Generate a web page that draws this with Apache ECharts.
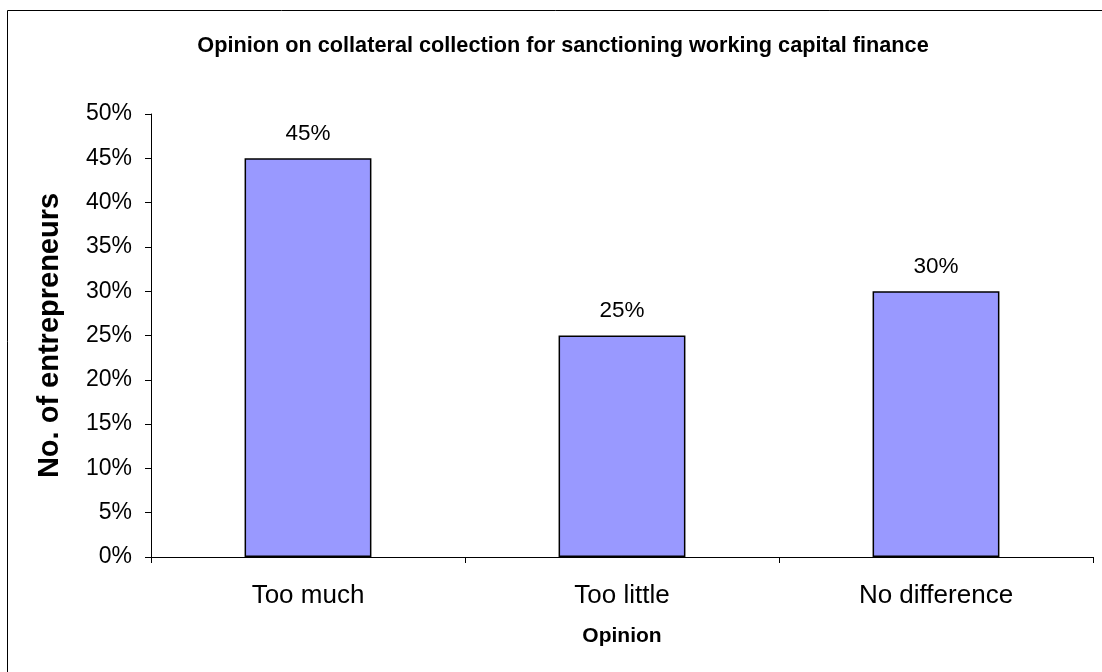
<!DOCTYPE html>
<html><head><meta charset="utf-8">
<script src="https://cdn.jsdelivr.net/npm/echarts@6/dist/echarts.min.js"></script>
<style>html,body{margin:0;padding:0;background:#fff}#c{width:1102px;height:672px}</style>
</head><body><div id="c"></div>
<script>
const categories = ['Too much', 'Too little', 'No difference'];
const values = [0.45, 0.25, 0.30];
const yTicks = [0, 0.05, 0.10, 0.15, 0.20, 0.25, 0.30, 0.35, 0.40, 0.45, 0.50];
const titleText = 'Opinion on collateral collection for sanctioning working capital finance';
const xName = 'Opinion';
const yName = 'No. of entrepreneurs';

const chart = echarts.init(document.getElementById('c'));
const pct = v => Math.round(v * 100) + '%';
chart.setOption({
  animation: false,
  backgroundColor: '#fff',
  title: {
    text: titleText, left: 558, textAlign: 'center', top: 30,
    textStyle: {fontFamily: 'Liberation Sans', fontSize: 21.7, fontWeight: 'bold', color: '#000'}
  },
  graphic: [{
    type: 'rect', silent: true,
    shape: {x: 7.5, y: 10.5, width: 1100, height: 670},
    style: {fill: 'none', stroke: '#000', lineWidth: 1}
  }],
  grid: {left: 151, right: 9, top: 114, bottom: 115, containLabel: false},
  xAxis: {
    type: 'category', data: categories,
    name: xName, nameLocation: 'middle', nameGap: 69,
    nameTextStyle: {fontFamily: 'Liberation Sans', fontSize: 21, fontWeight: 'bold', color: '#000'},
    axisLine: {lineStyle: {color: '#000', width: 1}},
    axisTick: {show: true, inside: false, length: 6, alignWithLabel: false, lineStyle: {color: '#000'}},
    axisLabel: {fontFamily: 'Liberation Sans', fontSize: 26, color: '#000', margin: 26},
    splitLine: {show: false}
  },
  yAxis: {
    type: 'value', min: 0, max: 0.5, interval: 0.05,
    name: yName, nameLocation: 'middle', nameGap: 87,
    nameTextStyle: {fontFamily: 'Liberation Sans', fontSize: 29, fontWeight: 'bold', color: '#000'},
    axisLine: {show: true, lineStyle: {color: '#000', width: 1}},
    axisTick: {show: true, length: 6, lineStyle: {color: '#000'}},
    axisLabel: {fontFamily: 'Liberation Sans', fontSize: 23, color: '#000', margin: 19,
      formatter: v => pct(v)},
    splitLine: {show: false}
  },
  series: [{
    type: 'bar', data: values, barWidth: '40.4%',
    itemStyle: {color: '#9999FF', borderColor: '#000', borderWidth: 1.5},
    label: {show: true, position: 'top', distance: 13, formatter: p => pct(p.value),
      fontFamily: 'Liberation Sans', fontSize: 22.5, color: '#000'}
  }]
});
</script></body></html>
